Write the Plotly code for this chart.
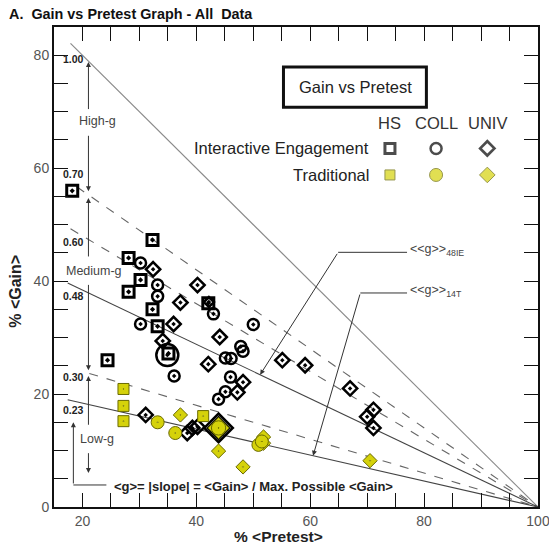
import plotly.graph_objects as go

# ---------------- data ----------------
G_VALUES = [1.00, 0.70, 0.60, 0.48, 0.30, 0.23]
G_LABELS = ["1.00", "0.70", "0.60", "0.48", "0.30", "0.23"]
G_START = [17.9, 19.0, 17.9, 17.4, 21.2, 17.4]

HS_IE_PRE = [18.2, 32.3, 28.1, 30.2, 28.1, 32.3, 33.2, 35.1, 24.4, 42.1]
HS_IE_GAIN = [56.0, 47.3, 44.1, 40.2, 38.1, 35.0, 32.0, 27.2, 26.0, 36.1]

COLL_IE_PRE = [30.2, 33.2, 33.2, 30.2, 50.0, 43.0, 34.9, 36.1, 45.1, 46.1, 48.2, 47.8, 46.0, 45.1, 43.9]
COLL_IE_GAIN = [43.2, 39.3, 37.3, 32.4, 32.3, 34.2, 26.9, 23.2, 26.4, 26.3, 27.6, 28.4, 23.0, 20.4, 19.1]
COLL_IE_N = [1, 1, 1, 1, 1, 1, 2, 1, 1, 1, 1, 1, 1, 1, 1]

UNIV_IE_PRE = [32.4, 40.2, 37.2, 36.0, 42.2, 34.1, 44.1, 42.1, 55.1, 59.1, 48.2, 47.2,
               67.0, 71.1, 70.0, 71.1, 31.1, 38.4, 39.3, 40.2, 43.9, 43.9]
UNIV_IE_GAIN = [42.1, 39.3, 36.2, 32.4, 36.3, 29.4, 30.1, 25.3, 26.0, 25.1, 22.1, 20.3,
                21.0, 17.2, 16.0, 14.0, 16.3, 13.1, 14.0, 14.2, 14.0, 14.0]
UNIV_IE_N = [1, 1, 1, 1, 0.7, 1, 1, 1, 1, 1, 1, 1, 1, 1, 1, 1, 1, 1, 1, 1, 2, 1.5]

HS_T_PRE = [27.2, 27.2, 27.2, 41.2]
HS_T_GAIN = [20.9, 17.9, 15.2, 16.1]

COLL_T_PRE = [33.2, 36.3, 43.9, 50.9, 51.5]
COLL_T_GAIN = [15.0, 13.1, 14.0, 11.0, 11.6]
COLL_T_N = [1, 1, 1.1, 1, 1]

UNIV_T_PRE = [37.2, 43.9, 43.9, 48.2, 51.8, 51.8, 70.5]
UNIV_T_GAIN = [16.3, 14.0, 9.9, 7.1, 12.4, 11.3, 8.2]
UNIV_T_N = [1, 1.5, 1, 1, 1, 1, 1]

X_TICKS = list(range(20, 101, 5))
Y_TICKS = list(range(0, 86, 5))

# ---------------- style ----------------
YEL = "#d5d20a"
YEL_LINE = "#6a6a00"
DARK = "#000000"
FONT = "Liberation Sans, Arial, sans-serif"

fig = go.Figure()

# g lines
line_styles = {1.00: ("#8a8a8a", "solid", 1.2), 0.70: ("#666", "dash", 1.1),
               0.60: ("#666", "dash", 1.1), 0.48: ("#444", "solid", 1.1),
               0.30: ("#666", "dash", 1.1), 0.23: ("#444", "solid", 1.1)}
for g, x0 in zip(G_VALUES, G_START):
    c, d, w = line_styles[g]
    fig.add_trace(go.Scatter(x=[x0, 100], y=[g * (100 - x0), 0], mode="lines",
                             line=dict(color=c, dash=d, width=w), hoverinfo="skip",
                             showlegend=False))

def add_pts(x, y, sym, color, lcolor, lw, base, n=None):
    sizes = [base * k for k in n] if n else base
    fig.add_trace(go.Scatter(x=x, y=y, mode="markers", showlegend=False,
                             marker=dict(symbol=sym, color=color, size=sizes, opacity=1,
                                         line=dict(color=lcolor, width=lw))))

add_pts(HS_IE_PRE, HS_IE_GAIN, "square-open-dot", DARK, DARK, 3, 11)
add_pts(COLL_IE_PRE, COLL_IE_GAIN, "circle-open-dot", DARK, DARK, 2.5, 11, COLL_IE_N)
add_pts(UNIV_IE_PRE, UNIV_IE_GAIN, "diamond-open-dot", DARK, DARK, 2.5, 11, UNIV_IE_N)
add_pts(HS_T_PRE, HS_T_GAIN, "square-dot", YEL, YEL_LINE, 1, 11)
add_pts(UNIV_T_PRE, UNIV_T_GAIN, "diamond-dot", YEL, YEL_LINE, 1, 11, UNIV_T_N)
add_pts(COLL_T_PRE, COLL_T_GAIN, "circle-dot", YEL, YEL_LINE, 1, 13, COLL_T_N)

# legend glyphs
LEG_X = [74.0, 82.1, 91.1]
fig.add_trace(go.Scatter(x=LEG_X, y=[63.5] * 3, mode="markers", showlegend=False,
                         marker=dict(symbol=["square-open", "circle-open", "diamond-open"],
                                     color=DARK, size=[10, 11, 11],
                                     line=dict(color=DARK, width=[3, 2.5, 2.7]))))
fig.add_trace(go.Scatter(x=LEG_X, y=[58.8] * 3, mode="markers", showlegend=False,
                         marker=dict(symbol=["square", "circle", "diamond"],
                                     color=YEL, size=[10, 13, 12],
                                     line=dict(color=YEL_LINE, width=1))))

# leader lines for <<g>>
fig.add_trace(go.Scatter(x=[64.9, 77.0], y=[45.1, 45.1], mode="lines",
                         line=dict(color="#333", width=1), showlegend=False, hoverinfo="skip"))
fig.add_trace(go.Scatter(x=[68.8, 77.0], y=[37.9, 37.9], mode="lines",
                         line=dict(color="#333", width=1), showlegend=False, hoverinfo="skip"))
# L bracket horizontal
fig.add_trace(go.Scatter(x=[18.4, 24.2], y=[3.9, 3.9], mode="lines",
                         line=dict(color="#333", width=1), showlegend=False, hoverinfo="skip"))

ann = []
def arrow(x, y, ax, ay):
    ann.append(dict(x=x, y=y, ax=ax, ay=ay, xref="x", yref="y", axref="x", ayref="y",
                    text="", showarrow=True, arrowhead=2, arrowsize=1, arrowwidth=1,
                    arrowcolor="#333", standoff=0, startstandoff=0))

XA = 21.05
arrow(XA, 78.8, XA, 70.2)
arrow(XA, 55.9, XA, 66.0)
arrow(XA, 54.7, XA, 44.1)
arrow(XA, 24.2, XA, 39.6)
arrow(XA, 23.2, XA, 14.3)
arrow(XA, 6.0, XA, 9.8)
arrow(18.4, 15.0, 18.4, 3.9)
arrow(51.2, 0.48 * (100 - 51.2), 64.9, 45.1)
arrow(60.5, 0.23 * (100 - 60.5), 68.8, 37.9)

def txt(x, y, s, size=12, color="#333", xanchor="center", bold=False, xref="x", yref="y", **kw):
    ann.append(dict(x=x, y=y, text=(f"<b>{s}</b>" if bold else s), xref=xref, yref=yref,
                    showarrow=False, xanchor=xanchor, yanchor="middle",
                    font=dict(family=FONT, size=size, color=color), **kw))

G_LABEL_Y = [79.3, 58.9, 46.9, 37.3, 23.0, 17.2]
for lab, ly in zip(G_LABELS, G_LABEL_Y):
    txt(18.4, ly, lab, size=10.5, color="#222", bold=True)

txt(22.6, 68.3, "High-g", size=12.5, color="#444")
txt(22.1, 41.8, "Medium-g", size=12.5, color="#444")
txt(22.5, 12.0, "Low-g", size=12.5, color="#444")
txt(25.2, 3.6, "&lt;g&gt;= |slope| = &lt;Gain&gt; / Max. Possible &lt;Gain&gt;", size=13,
    color="#222", xanchor="left", bold=True)
txt(77.2, 45.5, "&lt;&lt;g&gt;&gt;<sub>48IE</sub>", size=12.5, color="#444", xanchor="left")
txt(77.2, 38.3, "&lt;&lt;g&gt;&gt;<sub>14T</sub>", size=12.5, color="#444", xanchor="left")

txt(67.9, 74.4, "Gain vs Pretest", size=16.5, color="#222")
txt(74.0, 68.0, "HS", size=16.5, color="#333")
txt(82.1, 68.0, "COLL", size=16.5, color="#333")
txt(91.1, 68.0, "UNIV", size=16.5, color="#333")
txt(70.6, 63.5, "Interactive Engagement", size=16.5, color="#222", xanchor="right")
txt(70.6, 58.8, "Traditional", size=16.5, color="#222", xanchor="right")

# titles
txt(-0.097, 1.027, "A.  Gain vs Pretest Graph - All  Data", size=14.4, color="#111",
    xanchor="left", bold=True, xref="paper", yref="paper")
txt(0.463, -0.062, "% &lt;Pretest&gt;", size=15.5, color="#222", bold=True,
    xref="paper", yref="paper")
txt(-0.081, 0.45, "% &lt;Gain&gt;", size=16, color="#222", bold=True,
    xref="paper", yref="paper", textangle=-90)

fig.update_layout(
    width=549, height=545, autosize=False,
    margin=dict(l=54, r=11, t=27, b=38, autoexpand=False),
    paper_bgcolor="white", plot_bgcolor="white",
    annotations=ann,
    shapes=[dict(type="rect", xref="x", yref="y", x0=55.3, x1=80.4, y0=70.8, y1=77.9,
                 line=dict(color="#111", width=3))],
    font=dict(family=FONT),
)
fig.update_xaxes(range=[15, 100], showgrid=False, zeroline=False, showline=True,
                 automargin=False, ticklabeloverflow="allow",
                 linecolor="#111", linewidth=2, mirror="allticks", ticks="inside",
                 ticklen=14, tickcolor="#111", tickwidth=1,
                 tickvals=X_TICKS, ticktext=[str(v) if v % 20 == 0 else "" for v in X_TICKS],
                 tickfont=dict(size=14, color="#555", family=FONT))
fig.update_yaxes(range=[0, 85], showgrid=False, zeroline=False, showline=True,
                 automargin=False, ticklabeloverflow="allow",
                 linecolor="#111", linewidth=2, mirror="allticks", ticks="inside",
                 ticklen=14, tickcolor="#111", tickwidth=1,
                 tickvals=Y_TICKS, ticktext=[str(v) if v % 20 == 0 else "" for v in Y_TICKS],
                 tickfont=dict(size=14, color="#555", family=FONT))

POST = ("document.documentElement.style.margin='0';document.documentElement.style.overflow='hidden';"
        "document.body.style.margin='0';document.body.style.padding='0';"
        "document.body.style.overflow='hidden';"
        "var gd=document.getElementById('{plot_id}');"
        "gd.style.width='549px';gd.style.height='545px';"
        "if(gd.parentElement){gd.parentElement.style.width='549px';}"
        "return Plotly.relayout(gd,{autosize:false,width:549,height:545});")
fig.write_html("out.html", post_script=POST,
               config={"responsive": False, "displayModeBar": False})
